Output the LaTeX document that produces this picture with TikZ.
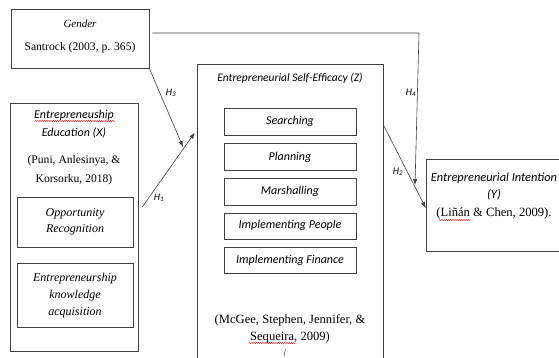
\documentclass[tikz,border=0pt]{standalone}
\usepackage{fontspec}
\setmainfont{Liberation Serif}
\newfontfamily\calibri{Carlito}
\usetikzlibrary{positioning,arrows.meta,decorations.pathmorphing}

\newcommand{\hyp}[1]{H\textsubscript{#1}}

\begin{document}
\begin{tikzpicture}[
    x=1pt, y=-1pt,
    node distance=8pt,
    box/.style={draw=black!75, line width=0.6pt, inner sep=0pt, align=center},
    txt/.style={inner sep=0pt, align=center, font=\fontsize{11.6}{19}\selectfont},
    cal/.style={inner sep=0pt, align=center, font=\calibri\itshape\fontsize{12}{18}\selectfont},
    lab/.style={inner sep=0pt, font=\calibri\itshape\fontsize{10}{10}\selectfont},
    arrow/.style={-{Latex[length=6pt,width=4.5pt]}, line width=0.6pt, draw=black!75},
    spell/.style={draw=red, line width=0.4pt, decorate, decoration={snake, amplitude=0.6pt, segment length=2.2pt}}
]
\useasboundingbox (0,0) rectangle (559,358);
\clip (0,0) rectangle (559,358);

% gender
\node[box, minimum width=138pt, minimum height=59pt] (gender) at (80,38.5) {};
\node[txt, font=\fontsize{11}{13}\selectfont\itshape] (gendertitle) at (80,24) {Gender};
\node[txt] (gendercite) at (80,48) {Santrock (2003, p. 365)};

% entrepreneurship education
\node[box, minimum width=128pt, minimum height=248pt] (edu) at (74,227) {};
\node[cal] (edutitle) at (74,124) {Entrepreneuship\\Education (X)};
\node[txt] (educite) at (74,170.5) {(Puni, Anlesinya, \&\\Korsorku, 2018)};
\node[box, txt, font=\fontsize{12}{16}\selectfont\itshape, minimum width=116pt, minimum height=50pt] (opp) at (75,222) {Opportunity\\Recognition};
\node[box, txt, font=\fontsize{12}{17}\selectfont\itshape, minimum width=116pt, minimum height=64pt] (know) [below=16pt of opp] {Entrepreneurship\\knowledge\\acquisition};

% self-efficacy
\node[box, minimum width=186pt, minimum height=300pt] (ese) at (290,214) {};
\node[cal, font=\calibri\itshape\fontsize{11.5}{14}\selectfont] (esetitle) at (290,78) {Entrepreneurial Self-Efficacy (Z)};
\node[box, cal, minimum width=132pt, minimum height=27pt] (search) at (290,121.5) {Searching};
\node[box, cal, minimum width=132pt, minimum height=27pt] (plan) [below=of search] {Planning};
\node[box, cal, minimum width=132pt, minimum height=27pt] (marshal) [below=7pt of plan] {Marshalling};
\node[box, cal, minimum width=132pt, minimum height=26pt] (people) [below=7pt of marshal] {Implementing People};
\node[box, cal, minimum width=132pt, minimum height=26pt] (finance) [below=8pt of people] {Implementing Finance};
\node[txt, font=\fontsize{12.6}{17}\selectfont] (esecite) at (290,328.5) {(McGee, Stephen, Jennifer, \&\\Sequeira, 2009)};
\draw[black!70, line width=0.5pt] (284,356) -- (285.5,349);

% intention
\node[box, minimum width=136pt, minimum height=92pt] (intention) at (494,205) {};
\node[cal, font=\calibri\itshape\fontsize{12.4}{17}\selectfont] (inttitle) at (494,186.5) {Entrepreneurial Intention\\(Y)};
\node[txt, font=\fontsize{12.6}{15}\selectfont] (intcite) at (494,213) {(Liñán \& Chen, 2009).};

% spelling marks
\draw[spell] (35,121) -- (115,121);
\draw[spell] (249,343) -- (296,343);
\draw[spell] (439,220) -- (471,220);

% hypotheses
\coordinate (h3end) at (183,147);
\coordinate (h4corner) at (419,33);
\coordinate (h4end) at (415,185);
\draw[arrow] ([xshift=4pt,yshift=20pt]edu.east) -- ([xshift=-2pt,yshift=-69pt]ese.north west);
\draw[arrow] (gender.south east) -- (h3end);
\draw[arrow] ([yshift=-61pt]ese.north east) -- ([yshift=-3pt]intention.west);
\draw[arrow] ([xshift=3pt,yshift=5.5pt]gender.east) -- (h4corner) -- (h4end);

\node[lab] (h1) at (159,198) {\hyp{1}};
\node[lab] (h3) at (171,93) {\hyp{3}};
\node[lab] (h2) at (398,172) {\hyp{2}};
\node[lab] (h4) at (411,93) {\hyp{4}};
\end{tikzpicture}
\end{document}
